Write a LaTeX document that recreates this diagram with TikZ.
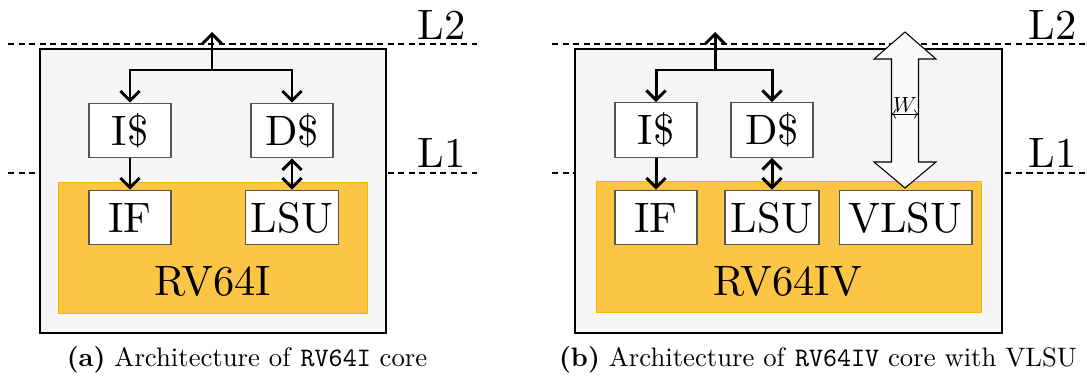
\documentclass[tikz,border=0pt]{standalone}
\usepackage{xcolor}
\usepackage{graphicx}
\usepackage{tikz}
\usetikzlibrary{arrows.meta, positioning, calc}

\definecolor{corebg}{HTML}{F5F5F5}
\definecolor{isafill}{HTML}{FCC545}
\definecolor{isaedge}{HTML}{F7B500}
\definecolor{unitedge}{HTML}{555555}
\definecolor{busfill}{HTML}{FAFAFA}
\newcommand{\blocktext}[1]{\scalebox{2.42}{#1}}
\newcommand{\capttext}[1]{\scalebox{1.52}{#1}}

\begin{document}
\begin{tikzpicture}[
      x=0.02cm, y=-0.02cm,
      level/.style={dash pattern=on 3.5pt off 2.5pt, line width=0.6pt},
      core/.style={draw=black, line width=1.2pt, fill=corebg, minimum height=5.68cm},
      isa/.style={draw=isaedge, fill=isafill, line width=0.5pt, minimum height=2.62cm},
      unit/.style={draw=unitedge, fill=white, line width=0.6pt,
        inner sep=0pt, minimum height=1.09cm, minimum width=1.64cm},
      lname/.style={inner sep=0pt, anchor=base east},
      isaname/.style={inner sep=0pt, anchor=base},
      bus/.style={line width=1.7pt, -{Straight Barb[length=5.5pt,width=11pt]}},
      dbus/.style={line width=1.7pt, {Straight Barb[length=5.5pt,width=11pt]}-{Straight Barb[length=5.5pt,width=11pt]}},
      capt/.style={inner sep=0pt, anchor=base}
    ]
      \useasboundingbox (0,0) rectangle (1087,379);

      \draw[level] (8,44) -- (477,44);
      \draw[level] (8,173) -- (477,173);
      \draw[level] (552,44) -- (1087,44);
      \draw[level] (552,173) -- (1087,173);
      \node[lname] (l2A) at (466,39) {\blocktext{L2}};
      \node[lname] (l1A) at (466,167) {\blocktext{L1}};
      \node[lname] (l2B) at (1077,39) {\blocktext{L2}};
      \node[lname] (l1B) at (1077,167) {\blocktext{L1}};

      \node[core, minimum width=6.92cm] (coreA) at (213,191) {};
      \node[isa, minimum width=6.18cm] (isaA) at (212.5,247.5) {};
      \node[unit] (icA) at (130,130.5) {\blocktext{I\$}};
      \node[unit] (dcA) at (292,130.5) {\blocktext{D\$}};
      \node[unit] (ifA) at (130,217.5) {\blocktext{IF}};
      \node[unit, minimum width=1.86cm] (lsuA) at (292,217.5) {\blocktext{LSU}};
      \node[isaname] (nameA) at (213,295) {\blocktext{RV64I}};
      \coordinate (busA) at (212,70);
      \coordinate (topA) at (212,32);
      \draw[bus] (busA) -- (topA);
      \draw[bus] (busA) -| (icA);
      \draw[bus] (busA) -| (dcA);
      \draw[bus] (icA) -- (ifA);
      \draw[dbus] (dcA) -- (lsuA);

      \node[core, minimum width=8.54cm] (coreB) at (788.5,191) {};
      \node[isa, minimum width=7.7cm] (isaB) at (788.5,247) {};
      \node[unit] (icB) at (656,130) {\blocktext{I\$}};
      \node[unit] (dcB) at (772,130) {\blocktext{D\$}};
      \node[unit] (ifB) at (656,217.5) {\blocktext{IF}};
      \node[unit, minimum width=1.88cm] (lsuB) at (772,217.5) {\blocktext{LSU}};
      \node[unit, minimum width=2.66cm] (vlsuB) at (905.5,217.5) {\blocktext{VLSU}};
      \node[isaname] (nameB) at (788,295) {\blocktext{RV64IV}};
      \coordinate (busB) at (715,70);
      \coordinate (topB) at (715,32);
      \draw[bus] (busB) -- (topB);
      \draw[bus] (busB) -| (icB);
      \draw[bus] (busB) -| (dcB);
      \draw[bus] (icB) -- (ifB);
      \draw[dbus] (dcB) -- (lsuB);

      \draw[fill=busfill, line width=0.6pt]
        (905,32) -- (936,59) -- (918.5,59) -- (918.5,162) -- (936,162) -- (905,188)
        -- (874,162) -- (891.5,162) -- (891.5,59) -- (874,59) -- cycle;
      \coordinate (wl) at (891.5,114);
      \coordinate (wr) at (918.5,114);
      \draw[<->, line width=0.4pt] (wl) -- (wr) node[midway, above=0.5pt, inner sep=0pt] {\scalebox{1.25}{$W$}};

      \node[capt] (captA) at (247,366) {\capttext{\textbf{(a)} Architecture of \texttt{RV64I} core}};
      \node[capt] (captB) at (818,366) {\capttext{\textbf{(b)} Architecture of \texttt{RV64IV} core with VLSU}};
    \end{tikzpicture}
\end{document}
